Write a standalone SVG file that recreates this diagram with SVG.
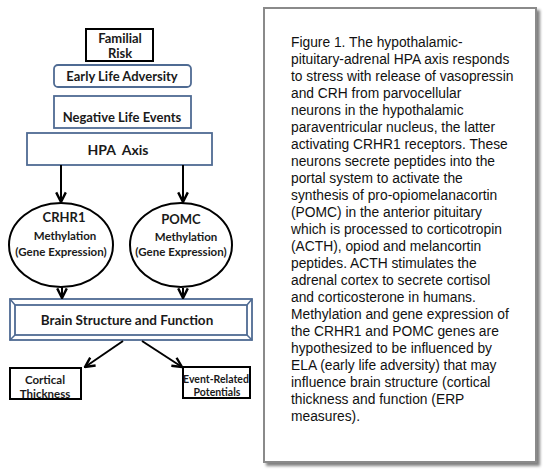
<svg xmlns="http://www.w3.org/2000/svg" width="550" height="470" viewBox="0 0 550 470">
<defs>
<style>
.b{font-family:Lato,"Liberation Sans",sans-serif;font-weight:bold;fill:#1a1a1a;text-anchor:middle}
.blue{fill:#fff;stroke:#4f6b93;stroke-width:1.8}
.blk{fill:#fff;stroke:#000;stroke-width:2}
.cap{font-family:"Liberation Sans",Arial,sans-serif;font-size:13.8px;fill:#111}
.con{stroke:#000;stroke-width:2;fill:none}
</style>
<marker id="ah" viewBox="0 0 10 10" refX="9" refY="5" markerWidth="6" markerHeight="6" orient="auto" markerUnits="strokeWidth">
<polyline points="1,1 9,5 1,9" fill="none" stroke="#000" stroke-width="2"/>
</marker>
<filter id="sh" x="-5%" y="-5%" width="115%" height="115%">
<feGaussianBlur in="SourceAlpha" stdDeviation="1.5"/>
<feOffset dx="3" dy="3"/>
<feComponentTransfer><feFuncA type="linear" slope="0.5"/></feComponentTransfer>
<feMerge><feMergeNode/><feMergeNode in="SourceGraphic"/></feMerge>
</filter>
</defs>
<rect width="550" height="470" fill="#fff"/>

<g id="familial-risk">
<rect class="blk" x="86" y="29" width="67" height="32"/>
<text class="b" x="120" y="43" font-size="13">Familial</text>
<text class="b" x="120" y="58" font-size="13">Risk</text>
</g>
<g id="early-life-adversity">
<rect class="blue" x="54" y="65" width="137" height="22" rx="4"/>
<text class="b" x="122" y="81" font-size="13">Early Life Adversity</text>
</g>
<g id="negative-life-events">
<rect class="blue" x="54" y="96" width="137" height="32"/>
<text class="b" x="122" y="122" font-size="13">Negative Life Events</text>
</g>
<g id="hpa-axis">
<rect class="blue" x="27" y="133" width="185" height="32"/>
<text class="b" x="118" y="155" font-size="14" xml:space="preserve">HPA  Axis</text>
</g>
<g id="crhr1">
<ellipse cx="61" cy="245" rx="52" ry="42" fill="#fff" stroke="#000" stroke-width="2"/>
<text class="b" x="64" y="222" font-size="13">CRHR1</text>
<text class="b" x="65" y="240" font-size="11.5">Methylation</text>
<text class="b" x="61" y="256" font-size="11.5">(Gene Expression)</text>
</g>
<g id="pomc">
<ellipse cx="181" cy="245" rx="51" ry="42" fill="#fff" stroke="#000" stroke-width="2"/>
<text class="b" x="181" y="224" font-size="13">POMC</text>
<text class="b" x="186" y="241" font-size="11.5">Methylation</text>
<text class="b" x="181" y="256" font-size="11.5">(Gene Expression)</text>
</g>
<g id="brain-structure">
<rect class="blue" x="10" y="299" width="242" height="41"/>
<rect class="blue" x="15" y="305" width="232" height="30"/>
<path d="M10,299 L15,305 M252,299 L247,305 M10,340 L15,335 M252,340 L247,335" stroke="#4f6b93" stroke-width="1.5"/>
<text class="b" x="127" y="325" font-size="13.5">Brain Structure and Function</text>
</g>
<g id="cortical-thickness">
<rect class="blk" x="10" y="368" width="71" height="31"/>
<text class="b" x="45" y="384" font-size="11.5">Cortical</text>
<text class="b" x="45" y="398" font-size="11.5">Thickness</text>
</g>
<g id="event-related-potentials">
<rect class="blk" x="183" y="367" width="67" height="31"/>
<text class="b" x="216" y="383" font-size="10.5">Event-Related</text>
<text class="b" x="217" y="396" font-size="10.5">Potentials</text>
</g>

<g id="connectors">
<line class="con" x1="61" y1="165" x2="61" y2="202" marker-end="url(#ah)"/>
<line class="con" x1="183" y1="165" x2="183" y2="202" marker-end="url(#ah)"/>
<line class="con" x1="62" y1="287" x2="62" y2="298" marker-end="url(#ah)"/>
<line class="con" x1="183" y1="288" x2="183" y2="298" marker-end="url(#ah)"/>
<line class="con" x1="123" y1="341" x2="85" y2="367" marker-end="url(#ah)"/>
<line class="con" x1="142" y1="341" x2="182" y2="367" marker-end="url(#ah)"/>
</g>

<g id="caption">
<rect x="264" y="8" width="272" height="454" fill="#fff" stroke="#8a8a8a" stroke-width="2" filter="url(#sh)"/>
<text class="cap">
<tspan x="291" y="47">Figure 1. The hypothalamic-</tspan>
<tspan x="291" y="64">pituitary-adrenal HPA axis responds</tspan>
<tspan x="291" y="81">to stress with release of vasopressin</tspan>
<tspan x="291" y="98">and CRH from parvocellular</tspan>
<tspan x="291" y="115">neurons in the hypothalamic</tspan>
<tspan x="291" y="132">paraventricular nucleus, the latter</tspan>
<tspan x="291" y="149">activating CRHR1 receptors. These</tspan>
<tspan x="291" y="166">neurons secrete peptides into the</tspan>
<tspan x="291" y="183">portal system to activate the</tspan>
<tspan x="291" y="200">synthesis of pro-opiomelanacortin</tspan>
<tspan x="291" y="217">(POMC) in the anterior pituitary</tspan>
<tspan x="291" y="234">which is processed to corticotropin</tspan>
<tspan x="291" y="251">(ACTH), opiod and melancortin</tspan>
<tspan x="291" y="268">peptides. ACTH stimulates the</tspan>
<tspan x="291" y="285">adrenal cortex to secrete cortisol</tspan>
<tspan x="291" y="302">and corticosterone in humans.</tspan>
<tspan x="291" y="319">Methylation and gene expression of</tspan>
<tspan x="291" y="336">the CRHR1 and POMC genes are</tspan>
<tspan x="291" y="353">hypothesized to be influenced by</tspan>
<tspan x="291" y="370">ELA (early life adversity) that may</tspan>
<tspan x="291" y="387">influence brain structure (cortical</tspan>
<tspan x="291" y="404">thickness and function (ERP</tspan>
<tspan x="291" y="421">measures).</tspan>
</text>
</g>
</svg>
